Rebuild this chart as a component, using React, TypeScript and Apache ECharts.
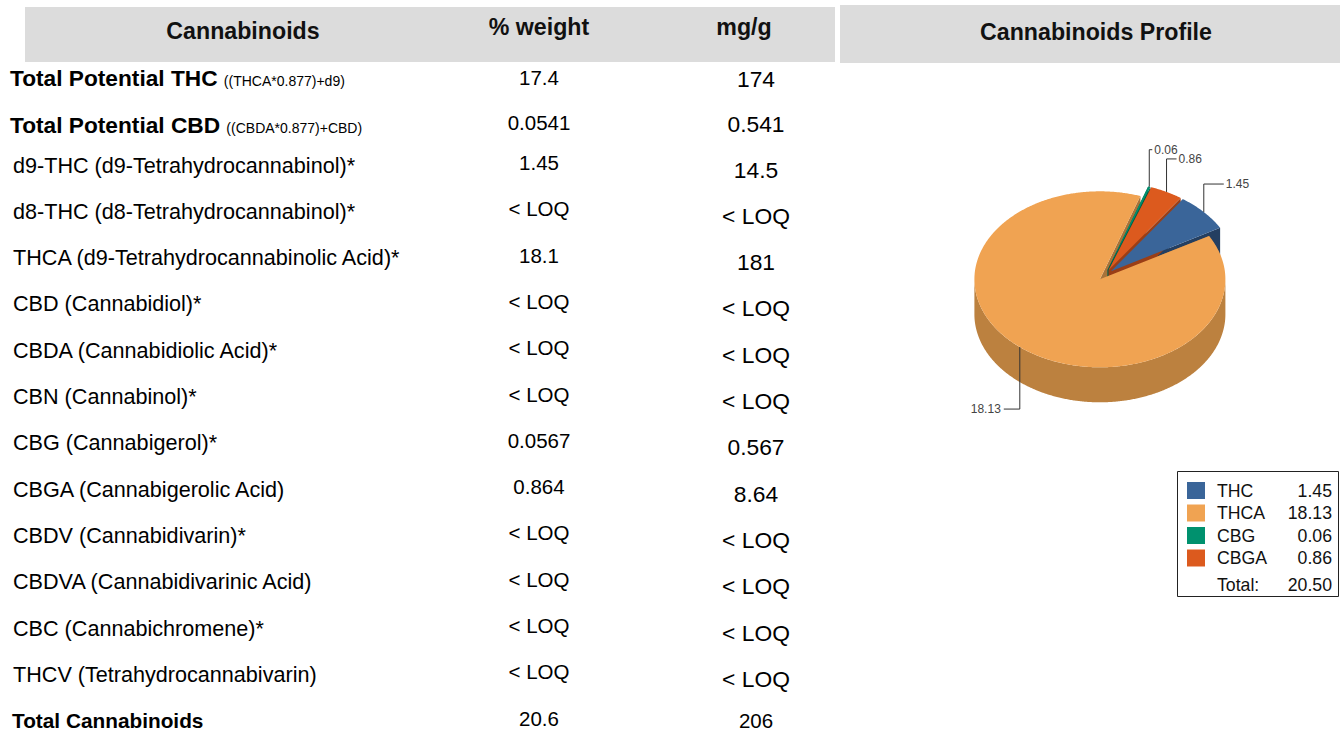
import React, { useEffect, useRef } from "react";
import * as echarts from "echarts";

// ---------- data ----------
const headerLabels = ["Cannabinoids", "% weight", "mg/g"];
const profileTitle = "Cannabinoids Profile";

const analyteNames = [
  "Total Potential THC",
  "Total Potential CBD",
  "d9-THC (d9-Tetrahydrocannabinol)*",
  "d8-THC (d8-Tetrahydrocannabinol)*",
  "THCA (d9-Tetrahydrocannabinolic Acid)*",
  "CBD (Cannabidiol)*",
  "CBDA (Cannabidiolic Acid)*",
  "CBN (Cannabinol)*",
  "CBG (Cannabigerol)*",
  "CBGA (Cannabigerolic Acid)",
  "CBDV (Cannabidivarin)*",
  "CBDVA (Cannabidivarinic Acid)",
  "CBC (Cannabichromene)*",
  "THCV (Tetrahydrocannabivarin)",
  "Total Cannabinoids",
];
const analyteFormulas = [
  "((THCA*0.877)+d9)",
  "((CBDA*0.877)+CBD)",
  "", "", "", "", "", "", "", "", "", "", "", "", "",
];
const pctWeight = [
  "17.4", "0.0541", "1.45", "< LOQ", "18.1", "< LOQ", "< LOQ", "< LOQ",
  "0.0567", "0.864", "< LOQ", "< LOQ", "< LOQ", "< LOQ", "20.6",
];
const mgPerGram = [
  "174", "0.541", "14.5", "< LOQ", "181", "< LOQ", "< LOQ", "< LOQ",
  "0.567", "8.64", "< LOQ", "< LOQ", "< LOQ", "< LOQ", "206",
];

const profileNames = ["THC", "THCA", "CBG", "CBGA"];
const profileValues = [1.45, 18.13, 0.06, 0.86];

// ---------- style ----------
const FONT = "'Liberation Sans', Arial, Helvetica, sans-serif";
const topColors = ["#3a6599", "#f0a352", "#00916e", "#dc5a1e"];
const wallColors = ["#2a4a72", "#bc813f", "#006b52", "#a84418"];
const faceColors = ["#243f61", "#a8733a", "#005e48", "#9a3e16"];
const labelRise = [28, 62, 37, 33];
const labelArm = [20, 16, 3, 10];

const CX = 1105;
const CY = 275;
const RX = 125.5;
const RY = 88;
const DEPTH = 35;
const EXPLODE = 8;
const DEG = Math.PI / 180;
const START = -55 * DEG;

function rowY(i: number): number {
  if (i === 0) return 78;
  if (i === 1) return 125;
  if (i === 14) return 720;
  return 165 + (i - 2) * 46.3;
}

function textEl(text: string, x: number, y: number, size: number, opts: any = {}) {
  const align = opts.align || "left";
  return {
    type: "text",
    x,
    y,
    silent: true,
    style: {
      text,
      fontSize: size,
      fontFamily: FONT,
      fontWeight: opts.bold ? "bold" : "normal",
      fill: opts.fill || "#000",
      align,
      textAlign: align,
      verticalAlign: "middle",
      textVerticalAlign: "middle",
    },
  };
}

export default function App() {
  const ref = useRef<HTMLDivElement>(null);

  useEffect(() => {
    if (!ref.current) return;
    const chart = echarts.init(ref.current, undefined, { renderer: "svg" });

    const total = profileValues.reduce((a, b) => a + b, 0);
    const angles: number[][] = [];
    let acc = START;
    profileValues.forEach((v) => {
      const span = (v / total) * Math.PI * 2;
      angles.push([acc, acc + span]);
      acc += span;
    });

    const elements: any[] = [];
    // header bars
    elements.push({
      type: "rect",
      shape: { x: 25, y: 7, width: 810, height: 55 },
      style: { fill: "#dcdcdc" },
      silent: true,
    });
    elements.push({
      type: "rect",
      shape: { x: 840, y: 5, width: 500, height: 58 },
      style: { fill: "#dcdcdc" },
      silent: true,
    });
    elements.push(textEl(headerLabels[0], 243, 31, 23.2, { bold: true, align: "center", fill: "#111" }));
    elements.push(textEl(headerLabels[1], 539, 27, 23.2, { bold: true, align: "center", fill: "#111" }));
    elements.push(textEl(headerLabels[2], 744, 27, 23.2, { bold: true, align: "center", fill: "#111" }));
    elements.push(textEl(profileTitle, 1096, 32, 23.2, { bold: true, align: "center", fill: "#111" }));

    // rows
    analyteNames.forEach((name, i) => {
      const y = rowY(i);
      if (analyteFormulas[i]) {
        elements.push({
          type: "text",
          x: 10,
          y,
          silent: true,
          style: {
            text: "{b|" + name + "}{g| }{s|" + analyteFormulas[i] + "}",
            align: "left",
            textAlign: "left",
            verticalAlign: "middle",
            textVerticalAlign: "middle",
            fill: "#000",
            rich: {
              b: { fontSize: 22.7, fontWeight: "bold", fontFamily: FONT, fill: "#000", lineHeight: 26 },
              g: { fontSize: 22.7, fontFamily: FONT, fill: "#000", lineHeight: 26 },
              s: { fontSize: 14, fontFamily: FONT, fill: "#000", lineHeight: 26, padding: [6, 0, 0, 0] },
            },
          },
        });
      } else if (i === analyteNames.length - 1) {
        elements.push(textEl(name, 12, y, 20.8, { bold: true }));
      } else {
        elements.push(textEl(name, 13, y, 21.6));
      }
      const last = i === analyteNames.length - 1;
      const pctDy = i === 0 ? -1 : i === 1 ? -3 : last ? -2 : -2.5;
      const mgDy = i === 0 ? 1 : i === 1 ? -1 : last ? 0 : 4.5;
      const pctSize = 20.5;
      const mgSize = last ? 20.5 : 22.8;
      elements.push(textEl(pctWeight[i], 539, y + pctDy, pctSize, { align: "center" }));
      elements.push(textEl(mgPerGram[i], 756, y + mgDy, mgSize, { align: "center" }));
    });

    // legend
    elements.push({
      type: "rect",
      shape: { x: 1177.5, y: 471.5, width: 161, height: 125 },
      style: { fill: "#fff", stroke: "#222", lineWidth: 1 },
      silent: true,
    });
    profileNames.forEach((n, i) => {
      elements.push({
        type: "rect",
        shape: { x: 1187, y: 482 + i * 22.5, width: 18, height: 17 },
        style: { fill: topColors[i] },
        silent: true,
      });
      elements.push(textEl(n, 1217, 490.5 + i * 22.5, 17.7, { fill: "#111" }));
      elements.push(
        textEl(profileValues[i].toFixed(2), 1332, 490.5 + i * 22.5, 17.7, { align: "right", fill: "#111" })
      );
    });
    elements.push(textEl("Total:", 1217, 585, 17.7, { fill: "#111" }));
    elements.push(textEl(total.toFixed(2), 1332, 585, 17.7, { align: "right", fill: "#111" }));

    const renderItem = (params: any, api: any) => {
      const i = params.dataIndex;
      const [a0, a1] = angles[i];
      const m = (a0 + a1) / 2;
      const cx = CX + EXPLODE * Math.cos(m);
      const cy = CY + EXPLODE * (RY / RX) * Math.sin(m);
      const rim = (t: number, d = 0) => [cx + RX * Math.cos(t), cy + RY * Math.sin(t) + d];
      const arc = (u: number, v: number, d: number) => {
        const n = Math.max(2, Math.ceil(Math.abs(v - u) / (0.5 * DEG)));
        const pts: number[][] = [];
        for (let k = 0; k <= n; k++) pts.push(rim(u + ((v - u) * k) / n, d));
        return pts;
      };
      const children: any[] = [];
      [a0, a1].forEach((a) => {
        children.push({
          type: "polygon",
          z2: 1,
          shape: { points: [[cx, cy], rim(a), rim(a, DEPTH), [cx, cy + DEPTH]] },
          style: { fill: faceColors[i] },
        });
      });
      for (let k = -1; k <= 1; k++) {
        const lo = Math.max(a0, 2 * Math.PI * k);
        const hi = Math.min(a1, Math.PI + 2 * Math.PI * k);
        if (hi > lo) {
          children.push({
            type: "polygon",
            z2: 2,
            shape: { points: arc(lo, hi, 0).concat(arc(hi, lo, DEPTH)) },
            style: { fill: wallColors[i] },
          });
        }
      }
      children.push({
        type: "polygon",
        z2: 10,
        shape: { points: [[cx, cy]].concat(arc(a0, a1, 0)) },
        style: { fill: topColors[i] },
      });
      const anchor = rim(m);
      const up = Math.sin(m) < 0;
      const right = Math.cos(m) >= 0;
      const y2 = anchor[1] + (up ? -labelRise[i] : labelRise[i]);
      const x3 = anchor[0] + (right ? labelArm[i] : -labelArm[i]);
      children.push({
        type: "polyline",
        z2: 20,
        shape: { points: [anchor, [anchor[0], y2], [x3, y2]] },
        style: { stroke: "#333", lineWidth: 1, fill: null },
      });
      const v = api.value(0);
      children.push({
        type: "text",
        z2: 21,
        x: x3 + (right ? 2 : -3),
        y: y2,
        style: {
          text: Number(v).toFixed(2),
          fontSize: 12,
          fontFamily: FONT,
          fill: "#444",
          align: right ? "left" : "right",
          textAlign: right ? "left" : "right",
          verticalAlign: "middle",
          textVerticalAlign: "middle",
        },
      });
      return { type: "group", children };
    };

    chart.setOption({
      animation: false,
      graphic: { elements },
      series: [
        {
          type: "custom",
          coordinateSystem: "none",
          silent: true,
          renderItem,
          data: profileValues.map((v, i) => ({ name: profileNames[i], value: [v] })),
        },
      ],
    });

    return () => chart.dispose();
  }, []);

  return (
    <div
      ref={ref}
      style={{ position: "fixed", left: 0, top: 0, width: 1340, height: 732, background: "#fff" }}
    />
  );
}
